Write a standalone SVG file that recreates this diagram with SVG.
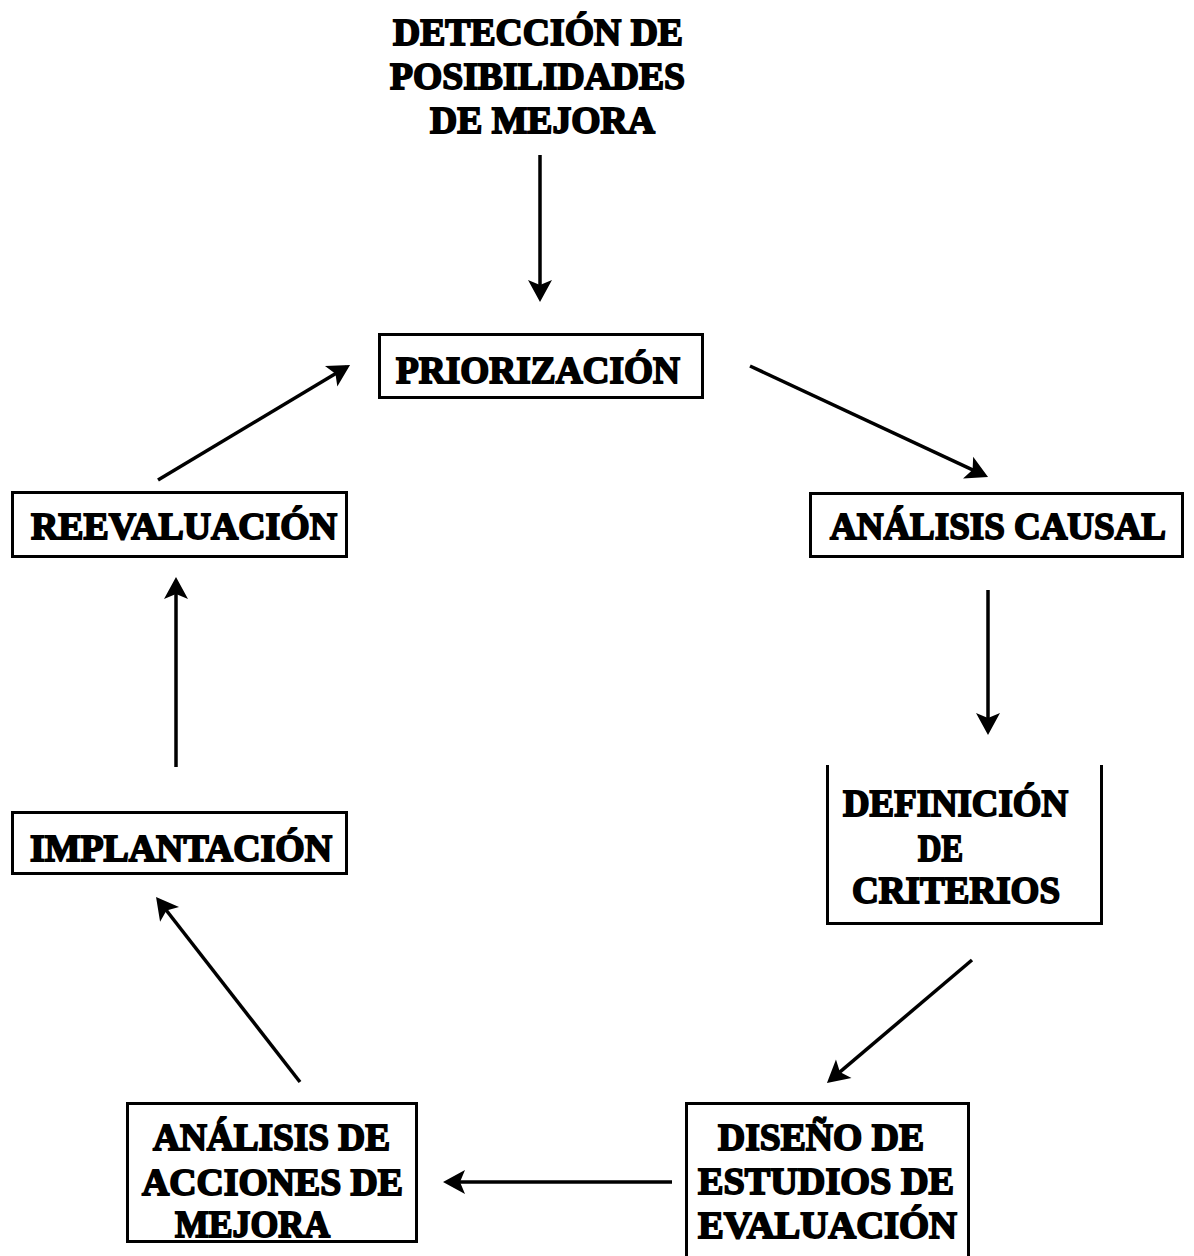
<svg xmlns="http://www.w3.org/2000/svg" width="1194" height="1256" viewBox="0 0 1194 1256">
<style>
  .t { font-family: "Liberation Serif", "DejaVu Serif", serif; font-weight: bold; font-size: 38px; fill: #000; stroke: #000; stroke-width: 1.8px; }
  .box { fill: none; stroke: #000; stroke-width: 3; }
  .edge { fill: none; stroke: #000; stroke-width: 3.5; }
</style>
<defs>
  <marker id="ah" markerUnits="userSpaceOnUse" markerWidth="40" markerHeight="40" refX="0" refY="0" viewBox="-20 -20 40 40" orient="auto" overflow="visible">
    <path d="M4,0 L-18,-12 L-13,0 L-18,12 Z" fill="#000"/>
  </marker>
</defs>
<rect width="1194" height="1256" fill="#fff"/>

<g id="n-deteccion">
  <text class="t" x="393" y="45" textLength="290" lengthAdjust="spacingAndGlyphs">DETECCIÓN DE</text>
  <text class="t" x="390" y="89" textLength="295" lengthAdjust="spacingAndGlyphs">POSIBILIDADES</text>
  <text class="t" x="430" y="133" textLength="225" lengthAdjust="spacingAndGlyphs">DE MEJORA</text>
</g>

<g id="n-priorizacion">
  <rect class="box" x="379.5" y="334.5" width="323" height="63"/>
  <text class="t" x="396" y="383" textLength="284" lengthAdjust="spacingAndGlyphs">PRIORIZACIÓN</text>
</g>

<g id="n-analisis-causal">
  <rect class="box" x="810.5" y="493.5" width="372" height="63"/>
  <text class="t" x="830" y="539" textLength="336" lengthAdjust="spacingAndGlyphs">ANÁLISIS CAUSAL</text>
</g>

<g id="n-definicion">
  <path class="box" d="M827.5,765 L827.5,923.5 L1101.5,923.5 L1101.5,765"/>
  <text class="t" x="843" y="816" textLength="225" lengthAdjust="spacingAndGlyphs">DEFINICIÓN</text>
  <text class="t" x="918" y="861" textLength="45" lengthAdjust="spacingAndGlyphs">DE</text>
  <text class="t" x="852" y="903" textLength="208" lengthAdjust="spacingAndGlyphs">CRITERIOS</text>
</g>

<g id="n-diseno">
  <path class="box" d="M686.5,1260 L686.5,1103.5 L968.5,1103.5 L968.5,1260"/>
  <text class="t" x="718" y="1150" textLength="206" lengthAdjust="spacingAndGlyphs">DISEÑO DE</text>
  <text class="t" x="698" y="1194" textLength="256" lengthAdjust="spacingAndGlyphs">ESTUDIOS DE</text>
  <text class="t" x="698" y="1238" textLength="259" lengthAdjust="spacingAndGlyphs">EVALUACIÓN</text>
</g>

<g id="n-analisis-acciones">
  <rect class="box" x="127.5" y="1103.5" width="289" height="138"/>
  <text class="t" x="153" y="1150" textLength="237" lengthAdjust="spacingAndGlyphs">ANÁLISIS DE</text>
  <text class="t" x="142" y="1195" textLength="261" lengthAdjust="spacingAndGlyphs">ACCIONES DE</text>
  <text class="t" x="175" y="1237" textLength="155" lengthAdjust="spacingAndGlyphs">MEJORA</text>
</g>

<g id="n-implantacion">
  <rect class="box" x="12.5" y="812.5" width="334" height="61"/>
  <text class="t" x="30" y="861" textLength="302" lengthAdjust="spacingAndGlyphs">IMPLANTACIÓN</text>
</g>

<g id="n-reevaluacion">
  <rect class="box" x="12.5" y="492.5" width="334" height="64"/>
  <text class="t" x="31" y="539" textLength="306" lengthAdjust="spacingAndGlyphs">REEVALUACIÓN</text>
</g>

<g id="connectors">
  <line class="edge" x1="540" y1="155" x2="540" y2="298" marker-end="url(#ah)"/>
  <line class="edge" x1="750" y1="366" x2="984.4" y2="475.3" marker-end="url(#ah)"/>
  <line class="edge" x1="988" y1="590" x2="988" y2="731" marker-end="url(#ah)"/>
  <line class="edge" x1="972" y1="960" x2="830" y2="1080.4" marker-end="url(#ah)"/>
  <line class="edge" x1="672" y1="1182" x2="447" y2="1182" marker-end="url(#ah)"/>
  <line class="edge" x1="300" y1="1082" x2="158.5" y2="900.2" marker-end="url(#ah)"/>
  <line class="edge" x1="176" y1="767" x2="176" y2="581" marker-end="url(#ah)"/>
  <line class="edge" x1="158" y1="480" x2="346.6" y2="367" marker-end="url(#ah)"/>
</g>
</svg>
